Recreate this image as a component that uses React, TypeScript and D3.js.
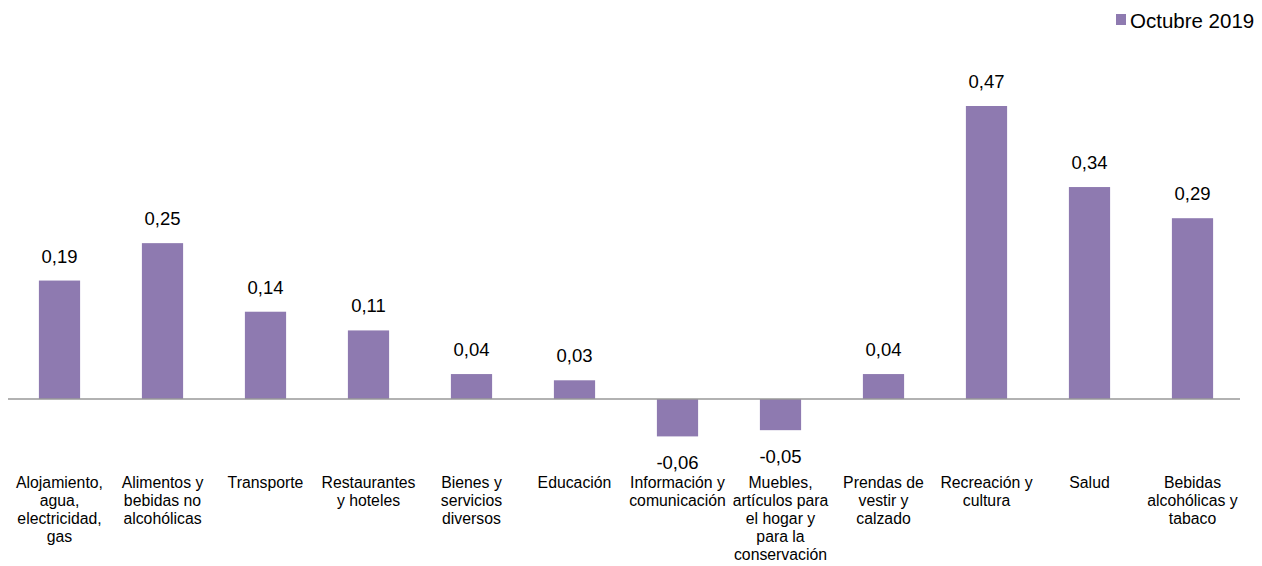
import * as d3 from 'd3';

const categories: string[][] = [
  ['Alojamiento,', 'agua,', 'electricidad,', 'gas'],
  ['Alimentos y', 'bebidas no', 'alcohólicas'],
  ['Transporte'],
  ['Restaurantes', 'y hoteles'],
  ['Bienes y', 'servicios', 'diversos'],
  ['Educación'],
  ['Información y', 'comunicación'],
  ['Muebles,', 'artículos para', 'el hogar y', 'para la', 'conservación'],
  ['Prendas de', 'vestir y', 'calzado'],
  ['Recreación y', 'cultura'],
  ['Salud'],
  ['Bebidas', 'alcohólicas y', 'tabaco'],
];
const values = [0.19, 0.25, 0.14, 0.11, 0.04, 0.03, -0.06, -0.05, 0.04, 0.47, 0.34, 0.29];
const seriesName = 'Octubre 2019';

const color = '#8e7ab0';
const font = '"Liberation Sans", Arial, sans-serif';

export default function App() {
  const width = 1262;
  const height = 566;

  const x = d3
    .scaleBand()
    .domain(categories.map((_, i) => i.toString()))
    .range([8, 1244])
    .paddingInner(0.6)
    .paddingOuter(0.3);

  const y = d3.scaleLinear().domain([0, 0.47]).range([399, 106]);

  const fmt = (v: number) => v.toFixed(2).replace('.', ',');

  return (
    <div style={{ position: 'absolute', left: 0, top: 0 }}>
      <svg width={width} height={height} fontFamily={font}>
        <rect width={width} height={height} fill="#fff" />
        {/* Bars */}
        {values.map((v, i) => {
          const bx = x(i.toString())!;
          const top = Math.min(y(v), y(0));
          const h = Math.abs(y(v) - y(0));
          const cx = bx + x.bandwidth() / 2;
          return (
            <g key={i}>
              <rect x={bx} y={top} width={x.bandwidth()} height={h} fill={color} />
              <text
                x={cx}
                y={v >= 0 ? y(v) - 18 : y(v) + 33}
                textAnchor="middle"
                fontSize={18.5}
                fill="#000"
              >
                {fmt(v)}
              </text>
            </g>
          );
        })}
        {/* Zero axis */}
        <line x1={8} x2={1240} y1={y(0)} y2={y(0)} stroke="#999" strokeWidth={1.5} />
        {/* Category labels */}
        {categories.map((lines, i) => {
          const cx = x(i.toString())! + x.bandwidth() / 2;
          return (
            <text key={i} x={cx} y={488} textAnchor="middle" fontSize={15.8} fill="#000">
              {lines.map((l, j) => (
                <tspan key={j} x={cx} dy={j === 0 ? 0 : 18}>
                  {l}
                </tspan>
              ))}
            </text>
          );
        })}
        {/* Legend */}
        <rect x={1116} y={14} width={10} height={11} fill={color} />
        <text x={1130} y={28} fontSize={20.5} fill="#000">
          {seriesName}
        </text>
      </svg>
    </div>
  );
}
